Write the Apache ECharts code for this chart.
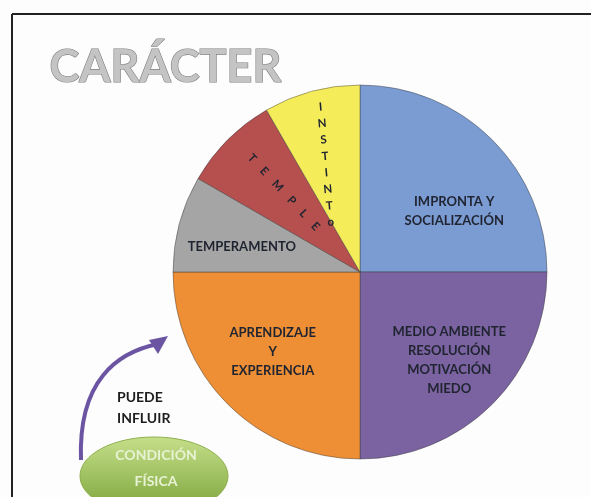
<!DOCTYPE html>
<html>
<head>
<meta charset="utf-8">
<script src="https://cdn.jsdelivr.net/npm/echarts@6/dist/echarts.min.js"></script>
<style>
  html, body { margin: 0; padding: 0; background: #fdfdfd; }
  #chart { width: 591px; height: 497px; }
</style>
</head>
<body>
<div id="chart"></div>
<script>
// slices, clockwise from 12 o'clock
var categories = ['IMPRONTA Y\nSOCIALIZACIÓN', 'MEDIO AMBIENTE\nRESOLUCIÓN\nMOTIVACIÓN\nMIEDO', 'APRENDIZAJE\nY\nEXPERIENCIA', 'TEMPERAMENTO', 'T    E    M    P    L    E', 'I\nN\nS\nT\nI\nN\nT\no'];
var values = [3, 3, 3, 1, 1, 1];
var colors = ['#7b9bd3', '#7a63a0', '#ee8f35', '#a5a5a5', '#b5504f', '#f5ec5a'];
// offsets are in the label's own (rotated) frame
var labelOffsets = [[26, 8], [21, 20], [-19, 12], [-25, 0], [-14, -2], [-8, -15]];
var labelRotate = [0, 0, 0, 0, -47, 5];

var chart = echarts.init(document.getElementById('chart'));

var pieData = values.map(function (v, i) {
  return {
    name: categories[i],
    value: v,
    itemStyle: { color: colors[i] },
    label: {
      offset: labelOffsets[i],
      rotate: labelRotate[i],
      lineHeight: i === 5 ? 16.5 : 19,
      fontSize: i >= 4 ? 11.5 : 13
    }
  };
});

chart.setOption({
  backgroundColor: '#fdfdfd',
  animation: false,
  graphic: [
    // frame lines
    { type: 'line', shape: { x1: 12, y1: 14, x2: 591, y2: 14 }, style: { stroke: '#222', lineWidth: 2 } },
    { type: 'line', shape: { x1: 12, y1: 14, x2: 12, y2: 497 }, style: { stroke: '#222', lineWidth: 2 } },
    // title
    {
      type: 'text', left: 49, top: 44,
      style: {
        text: 'CARÁCTER',
        font: 'bold 45px Lato',
        fill: '#c4c4c4',
        stroke: '#7d7d7d',
        lineWidth: 1.2,
        shadowColor: 'rgba(0,0,0,0.25)',
        shadowBlur: 3,
        shadowOffsetY: 2
      }
    },
    // ellipse
    {
      type: 'ellipse',
      shape: { cx: 154, cy: 476, rx: 74, ry: 39 },
      style: {
        fill: new echarts.graphic.LinearGradient(0, 0, 0, 1, [
          { offset: 0, color: '#c6df8a' },
          { offset: 1, color: '#79a238' }
        ]),
        stroke: '#8db04e', lineWidth: 1
      }
    },
    {
      type: 'text', x: 156, y: 468,
      style: { text: 'CONDICIÓN\nFÍSICA', font: 'bold 14px Lato', fill: '#e8f2d4', align: 'center', verticalAlign: 'middle', lineHeight: 26 }
    },
    // arrow
    {
      type: 'bezierCurve',
      shape: { x1: 81, y1: 460, x2: 158, y2: 344, cpx1: 78, cpy1: 380, cpx2: 118, cpy2: 352 },
      style: { stroke: '#6b55a3', lineWidth: 4, fill: null }
    },
    {
      type: 'polygon',
      shape: { points: [[168, 336], [149, 340], [158, 354]] },
      style: { fill: '#6b55a3' }
    },
    {
      type: 'text', left: 117, top: 387,
      style: { text: 'PUEDE\nINFLUIR', font: 'bold 14px Lato', fill: '#1e1e1e', lineHeight: 21, align: 'left' }
    }
  ],
  series: [{
    type: 'pie',
    center: [360, 272],
    radius: 187,
    startAngle: 90,
    clockwise: true,
    silent: true,
    avoidLabelOverlap: false,
    labelLayout: { hideOverlap: false },
    itemStyle: { borderColor: 'rgba(60,60,60,0.45)', borderWidth: 1 },
    label: {
      show: true,
      position: 'inside',
      color: '#1f2430',
      fontFamily: 'Lato',
      fontWeight: 'bold',
      fontSize: 13,
      align: 'center',
      formatter: '{b}'
    },
    labelLine: { show: false },
    data: pieData
  }]
});
</script>
</body>
</html>
